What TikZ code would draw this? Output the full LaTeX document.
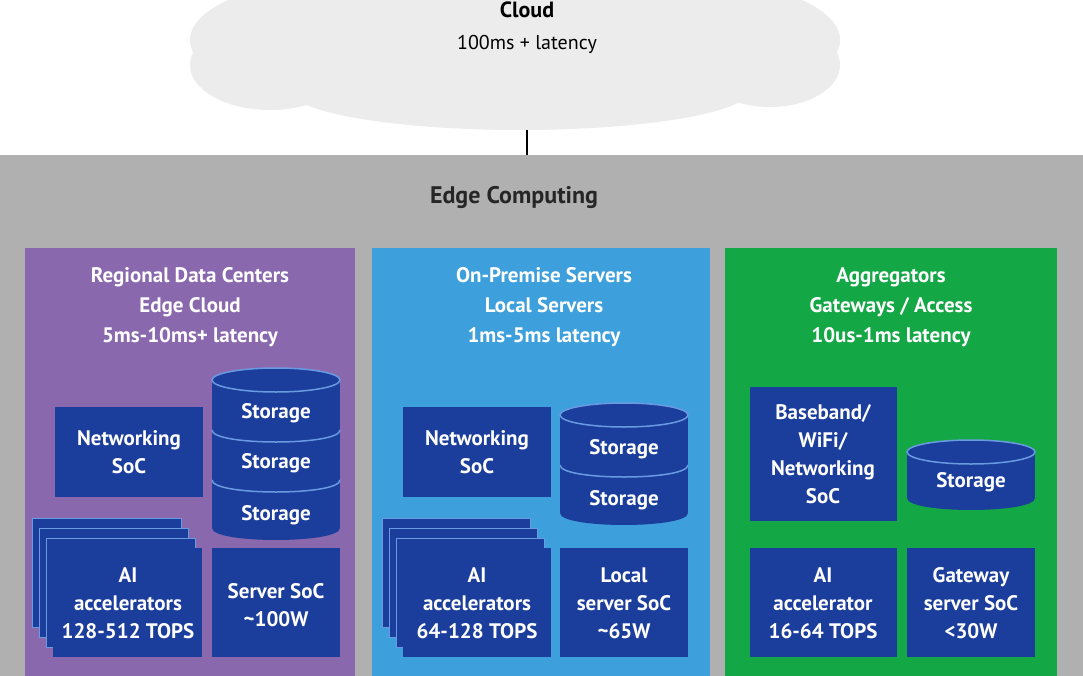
\documentclass[tikz,border=0pt]{standalone}
\usepackage{fontspec}
\setmainfont{PT Sans}
\definecolor{dk}{HTML}{1B3D9B}
\definecolor{pur}{HTML}{8A68AE}
\definecolor{blu}{HTML}{3D9FDB}
\definecolor{grn}{HTML}{14A745}
\definecolor{gry}{HTML}{B0B0B0}
\definecolor{cld}{HTML}{ECECEC}
\definecolor{sep}{HTML}{6A9BE0}
\newcommand\cylA[4]{% x1 x2 top bottom
  \fill[dk] (#1,#3) rectangle (#2,#4);
  \fill[dk] (#1,#4) .. controls (#1,#4+16) and (#2,#4+16) .. (#2,#4) -- cycle;
  \filldraw[fill=dk,draw=sep,line width=1.5pt] ({(#1+#2)/2},#3) ellipse ({(#2-#1)/2} and 12);
}
\newcommand\sepA[3]{\draw[sep,line width=1.5pt] (#1,#3) .. controls (#1,#3+16) and (#2,#3+16) .. (#2,#3);}
\begin{document}
\begin{tikzpicture}[x=1pt,y=-1pt,
  box/.style={fill=dk},
  wt/.style={text=white,align=center,font=\fontsize{21}{28}\selectfont\bfseries},
  ht/.style={text=white,align=center,font=\fontsize{21}{30}\selectfont\bfseries}]
\useasboundingbox (0,0) rectangle (1083,676);
\fill[white] (0,0) rectangle (1083,676);
% cloud
\fill[cld] (515,60) ellipse (320 and 55);
\fill[cld] (340,40) ellipse (150 and 60);
\fill[cld] (690,40) ellipse (150 and 60);
\fill[cld] (520,20) ellipse (260 and 70);
\fill[cld] (270,65) ellipse (80 and 45);
\fill[cld] (770,65) ellipse (70 and 42);
\fill[cld] (520,90) ellipse (230 and 40);
\node[font=\fontsize{22}{26}\selectfont\bfseries] (cloud) at (527,10) {Cloud};
\node[font=\fontsize{20}{24}\selectfont] (lat) at (527,44) {100ms + latency};
\coordinate (c1) at (527,130);
\coordinate (c2) at (527,155);
\draw[line width=1.5pt] (c1) -- (c2);
% edge band
\fill[gry] (0,155) rectangle (1083,676);
\node[font=\fontsize{24}{28}\selectfont\bfseries,text=black!85] (edge) at (514,197) {Edge Computing};
\fill[pur] (25,248) rectangle (355,676);
\fill[blu] (372,248) rectangle (710,676);
\fill[grn] (725,248) rectangle (1057,676);
\node[ht] (t1) at (190,307) {Regional Data Centers\\Edge Cloud\\5ms-10ms+ latency};
\node[ht] (t2) at (544,307) {On-Premise Servers\\Local Servers\\1ms-5ms latency};
\node[ht] (t3) at (891,307) {Aggregators\\Gateways / Access\\10us-1ms latency};
% purple panel
\fill[box] (55,407) rectangle (203,497);
\node[wt] (n1) at (129,452) {Networking\\SoC};
\cylA{212}{340}{380}{528}
\sepA{212}{340}{430}\sepA{212}{340}{480}
\node[wt] (s1a) at (276,413) {Storage};
\node[wt] (s1b) at (276,463) {Storage};
\node[wt] (s1c) at (276,515) {Storage};
\foreach \d in {3,2,1}{\draw[box,draw=sep,line width=0.8pt] (53-7*\d,548-10*\d) rectangle (202-7*\d,657-10*\d);}
\fill[box] (53,548) rectangle (202,657);
\node[wt] (a1) at (128,603) {AI\\accelerators\\128-512 TOPS};
\fill[box] (212,548) rectangle (340,657);
\node[wt] (v1) at (276,605) {Server SoC\\\textasciitilde100W};
% blue panel
\fill[box] (403,407) rectangle (551,497);
\node[wt] (n2) at (477,452) {Networking\\SoC};
\cylA{560}{688}{415}{513}
\sepA{560}{688}{465}
\node[wt] (s2a) at (624,449) {Storage};
\node[wt] (s2b) at (624,500) {Storage};
\foreach \d in {3,2,1}{\draw[box,draw=sep,line width=0.8pt] (403-7*\d,548-10*\d) rectangle (551-7*\d,657-10*\d);}
\fill[box] (403,548) rectangle (551,657);
\node[wt] (a2) at (477,603) {AI\\accelerators\\64-128 TOPS};
\fill[box] (560,548) rectangle (688,657);
\node[wt] (v2) at (624,603) {Local\\server SoC\\\textasciitilde65W};
% green panel
\fill[box] (750,387) rectangle (897,521);
\node[wt] (n3) at (823,454) {Baseband/\\WiFi/\\Networking\\SoC};
\cylA{907}{1035}{452}{498}
\node[wt] (s3) at (971,482) {Storage};
\fill[box] (750,548) rectangle (897,657);
\node[wt] (a3) at (823,603) {AI\\accelerator\\16-64 TOPS};
\fill[box] (907,548) rectangle (1035,657);
\node[wt] (v3) at (971,603) {Gateway\\server SoC\\<30W};
\end{tikzpicture}
\end{document}
